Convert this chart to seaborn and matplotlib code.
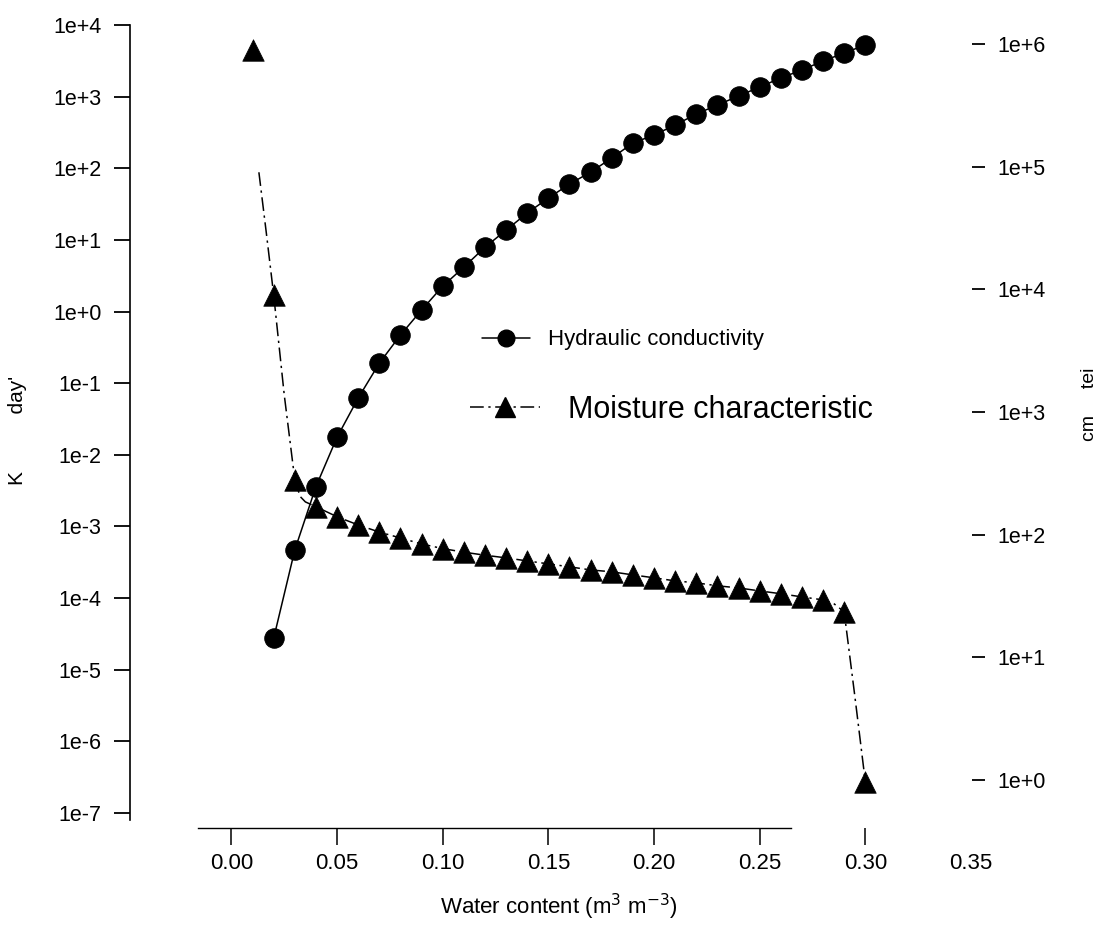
import matplotlib
matplotlib.use("Agg")
import matplotlib.pyplot as plt
import seaborn as sns
from matplotlib.lines import Line2D
from matplotlib.ticker import FixedLocator, FixedFormatter, NullLocator

# ---------------- data ----------------
theta_k = [0.02, 0.03, 0.04, 0.05, 0.06, 0.07, 0.08, 0.09, 0.10, 0.11,
           0.12, 0.13, 0.14, 0.15, 0.16, 0.17, 0.18, 0.19, 0.20, 0.21,
           0.22, 0.23, 0.24, 0.25, 0.26, 0.27, 0.28, 0.29, 0.30]
K_day = [2.75e-5, 4.7e-4, 3.6e-3, 1.76e-2, 6.2e-2, 0.19, 0.47, 1.05, 2.26, 4.17,
         7.9, 13.7, 23.7, 38.4, 60.1, 88.5, 139, 225, 291, 401,
         571, 764, 1019, 1361, 1820, 2355, 3141, 4064, 5260]

theta_mc = [0.01, 0.02, 0.03, 0.04, 0.05, 0.06, 0.07, 0.08, 0.09, 0.10,
            0.11, 0.12, 0.13, 0.14, 0.15, 0.16, 0.17, 0.18, 0.19, 0.20,
            0.21, 0.22, 0.23, 0.24, 0.25, 0.26, 0.27, 0.28, 0.29, 0.30]
h_cm = [8.9e5, 9.0e3, 280, 169, 140, 120, 105, 94, 84, 77,
        72, 68, 64.7, 61.1, 57.8, 54.7, 51.6, 49.8, 47.0, 44.5,
        42.0, 40.5, 38.3, 36.8, 34.8, 33.0, 31.1, 29.4, 23.5, 0.97]

# fitted moisture-characteristic curve (dash-dot line)
curve_theta = [0.013, 0.0165, 0.02, 0.025, 0.03, 0.0325, 0.035, 0.04, 0.05,
               0.06, 0.07, 0.08, 0.09, 0.10, 0.11, 0.12, 0.13, 0.14, 0.15,
               0.16, 0.17, 0.18, 0.19, 0.20, 0.21, 0.22, 0.23, 0.24, 0.25,
               0.26, 0.27, 0.28, 0.285, 0.29, 0.295, 0.30]
curve_h = [9.0e4, 2.9e4, 9.0e3, 1.38e3, 280, 205, 185, 169, 140,
           120, 105, 94, 84, 77, 72, 68, 64.7, 61.1, 57.8,
           54.7, 51.6, 49.8, 47.0, 44.5, 42.0, 40.5, 38.3, 36.8, 34.8,
           33.0, 31.1, 29.4, 27.5, 23.5, 4.9, 0.97]

k_ticks = [1e-7, 1e-6, 1e-5, 1e-4, 1e-3, 1e-2, 1e-1, 1e0, 1e1, 1e2, 1e3, 1e4]
k_labels = ["1e-7", "1e-6", "1e-5", "1e-4", "1e-3", "1e-2", "1e-1",
            "1e+0", "1e+1", "1e+2", "1e+3", "1e+4"]
h_ticks = [1e0, 1e1, 1e2, 1e3, 1e4, 1e5, 1e6]
h_labels = ["1e+0", "1e+1", "1e+2", "1e+3", "1e+4", "1e+5", "1e+6"]
x_ticks = [0.00, 0.05, 0.10, 0.15, 0.20, 0.25, 0.30, 0.35]
x_labels = ["0.00", "0.05", "0.10", "0.15", "0.20", "0.25", "0.30", "0.35"]

leg_k = "Hydraulic conductivity"
leg_mc = "Moisture characteristic"

# ---------------- style ----------------
sns.set_theme(style="white")
plt.rcParams['font.family'] = ['Liberation Sans', 'DejaVu Sans']
plt.rcParams['axes.edgecolor'] = 'black'
plt.rcParams['text.color'] = 'black'
plt.rcParams['axes.labelcolor'] = 'black'
plt.rcParams['xtick.color'] = 'black'
plt.rcParams['ytick.color'] = 'black'

W, H = 1108, 926
fig = plt.figure(figsize=(W / 100, H / 100), dpi=100)
fig.patch.set_facecolor('white')

x0, x1, yb, yt = 130, 972, 828, 10
ax = fig.add_axes([x0 / W, 1 - yb / H, (x1 - x0) / W, (yb - yt) / H])
ax.set_facecolor('white')
ax.set_yscale('log')
ax2 = ax.twinx()
ax2.set_yscale('log')

dashdot = (0, (9, 3, 1.5, 3))

sns.lineplot(x=theta_k, y=K_day, ax=ax, color='black', lw=1.1, marker='o',
             markersize=14, markerfacecolor='black', markeredgecolor='black',
             legend=False, sort=False)
sns.lineplot(x=curve_theta, y=curve_h, ax=ax2, color='black', lw=1.1,
             linestyle=dashdot, legend=False, sort=False)
sns.scatterplot(x=theta_mc, y=h_cm, ax=ax2, marker='^', s=240, color='black',
                edgecolor='black', linewidth=0.5, legend=False, zorder=3)

# ---------------- axes ----------------
ax.set_xlim(-0.048, 0.3505)
ax.set_ylim(10 ** (-7 - 15 / 71.6), 10 ** (4 + 15 / 71.6))
ax2.set_ylim(10 ** (-48 / 122.7), 10 ** (6 + 34 / 122.7))

ax.yaxis.set_major_locator(FixedLocator(k_ticks))
ax.yaxis.set_major_formatter(FixedFormatter(k_labels))
ax.yaxis.set_minor_locator(NullLocator())
ax2.yaxis.set_major_locator(FixedLocator(h_ticks))
ax2.yaxis.set_major_formatter(FixedFormatter(h_labels))
ax2.yaxis.set_minor_locator(NullLocator())
ax.xaxis.set_major_locator(FixedLocator(x_ticks))
ax.xaxis.set_major_formatter(FixedFormatter(x_labels))
ax.xaxis.set_minor_locator(NullLocator())

ax.tick_params(axis='y', which='major', left=True, right=False, direction='out',
               length=11.5, width=1.3, labelsize=15.5, pad=9, colors='black')
ax.tick_params(axis='x', which='major', bottom=True, top=False, direction='out',
               length=12, width=1.1, labelsize=16, pad=6, colors='black')
ax2.tick_params(axis='y', which='major', right=True, left=False, direction='out',
                length=9, width=1.3, labelsize=15.5, pad=9, colors='black')
ax.xaxis.get_major_ticks()[-1].tick1line.set_visible(False)

for s in ['top', 'right']:
    ax.spines[s].set_visible(False)
for s in ax2.spines.values():
    s.set_visible(False)
ax.spines['left'].set_linewidth(1.2)
ax.spines['left'].set_bounds(10 ** -7.1, 1e4)
ax.spines['bottom'].set_linewidth(1.0)
ax.spines['bottom'].set_bounds(-0.016, 0.265)
ax.grid(False)
ax2.grid(False)
ax.set_xlabel("")
ax.set_ylabel("")
ax2.set_ylabel("")

# axis titles
fig.text(18 / W, 1 - 430 / H, "K          day'", rotation=90, ha='center',
         va='center', fontsize=15, color='black')
fig.text(1090 / W, 1 - 404 / H, "cm     tei", rotation=90, ha='center',
         va='center', fontsize=14, color='black')
fig.text(559 / W, 1 - 907 / H, "Water content (m$^3$ m$^{-3}$)", ha='center',
         va='center', fontsize=16, color='black')

# legends
h1 = Line2D([], [], color='black', lw=1.1, marker='o', markersize=12,
            markerfacecolor='black', markeredgecolor='black')
h2 = Line2D([], [], color='black', lw=1.1, linestyle=dashdot, marker='^',
            markersize=15, markerfacecolor='black', markeredgecolor='black')
lg1 = fig.legend(handles=[h1], labels=[leg_k], loc='center left',
                 bbox_to_anchor=(482 / W, 1 - 340 / H), frameon=False, fontsize=16,
                 handlelength=2.15, handletextpad=0.8, borderpad=0,
                 borderaxespad=0, numpoints=1, labelcolor='black')
lg2 = fig.legend(handles=[h2], labels=[leg_mc], loc='center left',
                 bbox_to_anchor=(470 / W, 1 - 410 / H), frameon=False, fontsize=22,
                 handlelength=2.3, handletextpad=0.9, borderpad=0,
                 borderaxespad=0, numpoints=1, labelcolor='black')

fig.savefig("out.png", dpi=100, facecolor='white')
